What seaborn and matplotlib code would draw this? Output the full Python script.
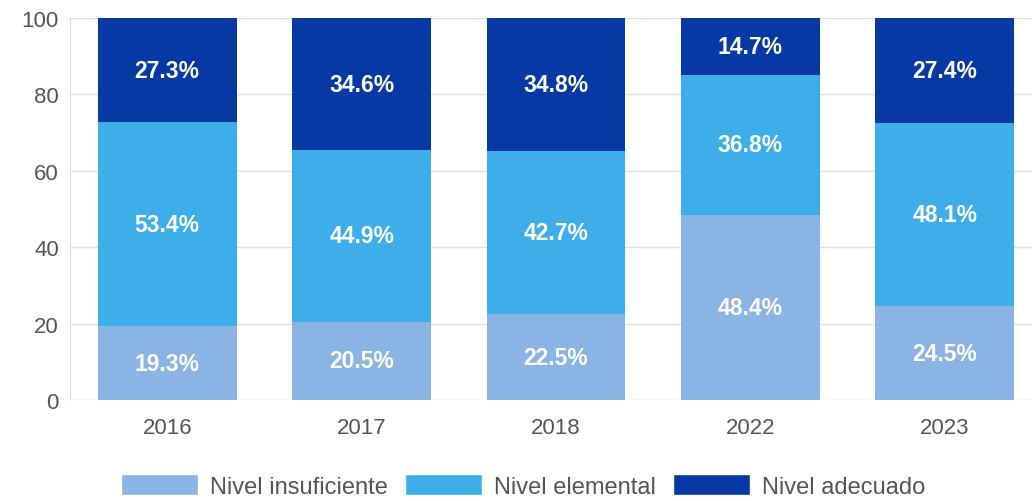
import pandas as pd
import matplotlib.pyplot as plt
import seaborn as sns
from matplotlib.patches import Patch

years = ['2016', '2017', '2018', '2022', '2023']
insuficiente = [19.3, 20.5, 22.5, 48.4, 24.5]
elemental = [53.4, 44.9, 42.7, 36.8, 48.1]
adecuado = [27.3, 34.6, 34.8, 14.7, 27.4]
series_names = ['Nivel insuficiente', 'Nivel elemental', 'Nivel adecuado']
colors = ['#8AB4E3', '#3DAEEA', '#0639A3']

sns.set_style('white')
plt.rcParams['font.family'] = ['Liberation Sans', 'DejaVu Sans']

df = pd.DataFrame({'year': years, 'ins': insuficiente, 'ele': elemental, 'ade': adecuado})

fig = plt.figure(figsize=(10.32, 5.02), dpi=100)
ax = fig.add_axes([70 / 1032, 101 / 502, 972 / 1032, 382 / 502])

bottom = [0.0] * len(years)
for col, name, color in zip(['ins', 'ele', 'ade'], series_names, colors):
    sns.barplot(data=df, x='year', y=col, color=color, width=0.715, bottom=bottom,
                saturation=1, linewidth=0, ax=ax, zorder=3)
    for i, v in enumerate(df[col]):
        ax.text(i, bottom[i] + v / 2, f'{v:.1f}%', ha='center', va='center',
                color='white', fontsize=16.5, fontweight='bold', zorder=4)
    bottom = [b + v for b, v in zip(bottom, df[col])]

ax.set_ylim(0, 100)
ax.set_xlim(-0.5, 4.5)
ax.set_yticks(range(0, 101, 20))
ax.yaxis.grid(True, color='#E0E0E0', linewidth=1, zorder=0)
ax.set_axisbelow(True)
for s in ['top', 'right', 'bottom']:
    ax.spines[s].set_visible(False)
ax.spines['left'].set_color('#DDDDDD')
ax.tick_params(axis='both', length=0, labelsize=16, labelcolor='#555555')
ax.tick_params(axis='x', pad=12)
ax.tick_params(axis='y', pad=8)
ax.set_xlabel('')
ax.set_ylabel('')

handles = [Patch(facecolor=c, label=n) for c, n in zip(colors, series_names)]
fig.legend(handles=handles, loc='center', bbox_to_anchor=(0.507, 0.03), ncol=3,
           frameon=False, fontsize=17, handlelength=3.25, handleheight=0.95,
           columnspacing=0.75, handletextpad=0.5, labelcolor='#555555')

plt.savefig('out.png', dpi=100)
